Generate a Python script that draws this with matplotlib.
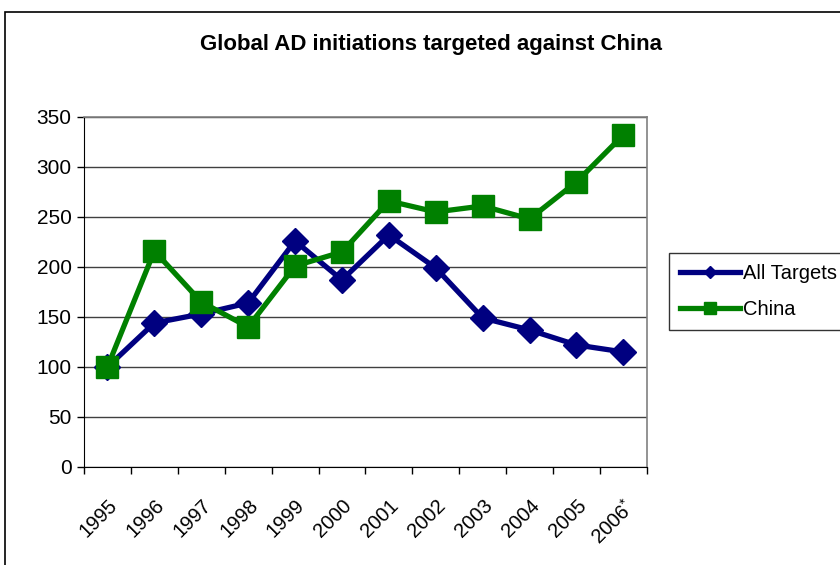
import matplotlib.pyplot as plt
from matplotlib.patches import Rectangle
from matplotlib.transforms import ScaledTranslation

plt.rcParams['font.family'] = ['Liberation Sans', 'DejaVu Sans']
plt.rcParams['mathtext.fontset'] = 'custom'
plt.rcParams['mathtext.rm'] = 'Liberation Sans'

years = ['1995', '1996', '1997', '1998', '1999', '2000',
         '2001', '2002', '2003', '2004', '2005', '2006$^{*}$']
all_targets = [100, 144, 153, 164, 226, 187, 232, 199, 149, 137, 122, 115]
china = [100, 216, 165, 140, 201, 215, 266, 255, 261, 248, 285, 332]

fig = plt.figure(figsize=(8.4, 5.65), dpi=100)
ax = fig.add_axes([0.1, 0.1735, 0.67, 0.6195])

x = range(len(years))
ax.plot(x, all_targets, color='#000080', lw=3.8, marker='D', ms=13,
        label='All Targets', zorder=3)
ax.plot(x, china, color='#008000', lw=3.8, marker='s', ms=16,
        label='China', zorder=4)

ax.set_xlim(-0.5, len(years) - 0.5)
ax.set_ylim(0, 350)
ax.set_yticks(range(0, 351, 50))
ax.yaxis.grid(True, color='#404040', lw=1)
ax.set_axisbelow(True)

# ticks between categories, labels at the centres
ax.set_xticks([i - 0.5 for i in range(len(years) + 1)])
ax.set_xticklabels([])
ax.set_xticks(list(x), minor=True)
ax.set_xticklabels(years, minor=True, rotation=45, ha='right', va='top',
                   rotation_mode='anchor', fontsize=14.5)
shift = ScaledTranslation(-9 / 100, 0, fig.dpi_scale_trans)
for lab in ax.get_xticklabels(minor=True):
    lab.set_transform(lab.get_transform() + shift)
ax.tick_params(axis='x', which='minor', length=0, pad=21)
ax.tick_params(axis='x', which='major', direction='out', length=5, width=1)
ax.tick_params(axis='y', direction='out', length=5, width=1, labelsize=15,
               pad=4)

for side in ('top', 'right'):
    ax.spines[side].set_color('#808080')
    ax.spines[side].set_linewidth(1.2)
for side in ('left', 'bottom'):
    ax.spines[side].set_color('black')

fig.text(0.513, 0.921, 'Global AD initiations targeted against China',
         ha='center', va='center', fontsize=16, fontweight='bold')

leg = fig.legend(loc='upper left', bbox_to_anchor=(0.7964, 0.552),
                 fontsize=14.5, frameon=True, fancybox=False,
                 edgecolor='black', handlelength=3.0, handletextpad=0.15,
                 borderpad=0.55, labelspacing=0.85, markerscale=0.5,
                 borderaxespad=0)
leg.get_frame().set_linewidth(1)

fig.patches.append(Rectangle((5 / 840, -0.1), 1.2, 1.1 - 12 / 565,
                             transform=fig.transFigure, fill=False,
                             edgecolor='black', lw=1.2, clip_on=False))

fig.savefig('out.png', dpi=100)
